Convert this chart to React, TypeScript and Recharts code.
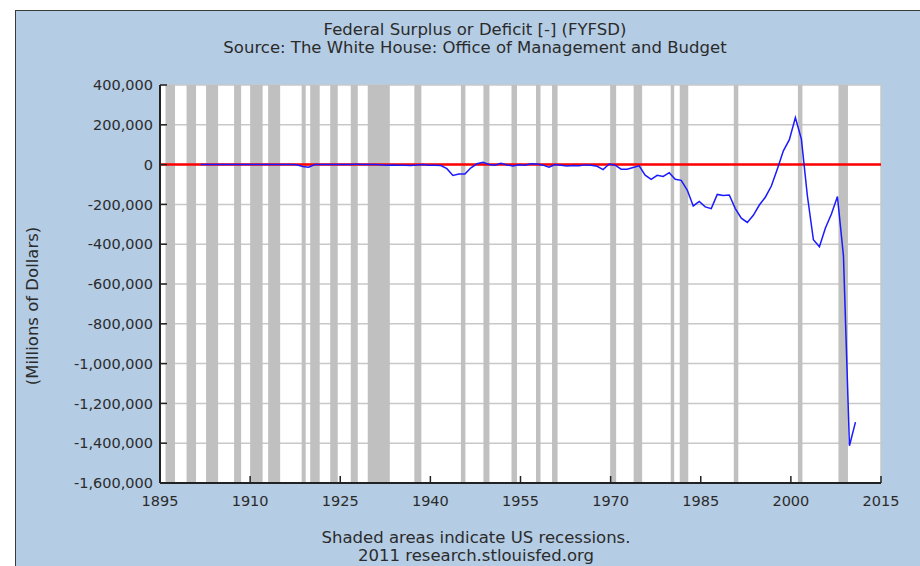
import {
  LineChart, Line, XAxis, YAxis, CartesianGrid, ReferenceArea, ReferenceLine,
} from "recharts";

// FYFSD, millions of dollars, fiscal years starting at FIRST_YEAR
const FIRST_YEAR = 1901;
const deficits = [
  63, 77, 45, -43, -23, 25, 87, -57, -89, -18,
  11, 3, 0, -1, -63, 48, -853, -9032, -13363, 291,
  509, 736, 713, 963, 717, 865, 1155, 939, 734, 738,
  -462, -2735, -2602, -3586, -2803, -4304, -2193, -89, -2846, -2920,
  -4941, -20503, -54554, -47557, -47553, -15936, 4018, 11796, 580, -3119,
  6102, -1519, -6493, -1154, -2993, 3947, 3412, -2769, -12849, 301,
  -3335, -7146, -4756, -5915, -1411, -3698, -8643, -25161, 3242, -2842,
  -23033, -23373, -14908, -6135, -53242, -73732, -53659, -59185, -40726, -73830,
  -78968, -127977, -207802, -185367, -212308, -221227, -149730, -155178, -152639, -221036,
  -269238, -290321, -255051, -203186, -163952, -107431, -21884, 69270, 125610, 236241,
  128236, -157758, -377585, -412727, -318346, -248181, -160701, -458553, -1412688, -1294373,
];

// US recessions (decimal years)
const recessionStarts = [
  1895.92, 1899.42, 1902.67, 1907.33, 1910.0, 1913.0, 1918.58, 1920.0, 1923.33, 1926.75,
  1929.58, 1937.33, 1945.08, 1948.83, 1953.5, 1957.58, 1960.25, 1969.92, 1973.83, 1980.0,
  1981.5, 1990.5, 2001.17, 2007.92,
];
const recessionEnds = [
  1897.5, 1901.0, 1904.67, 1908.5, 1912.08, 1915.0, 1919.25, 1921.58, 1924.58, 1927.92,
  1933.25, 1938.5, 1945.83, 1949.83, 1954.42, 1958.33, 1961.17, 1970.92, 1975.25, 1980.58,
  1982.92, 1991.25, 2001.92, 2009.5,
];

const xTicks = [1895, 1910, 1925, 1940, 1955, 1970, 1985, 2000, 2015];
const yTicks = [400000, 200000, 0, -200000, -400000, -600000, -800000, -1000000, -1200000, -1400000, -1600000];

const FONT = "DejaVu Sans, Verdana, sans-serif";
const TEXT = "#2b2b2b";

export default function App() {
  // FY ends Sep 30, plotted at period end
  const data = deficits.map((v, i) => ({ x: FIRST_YEAR + i + 0.75, value: v }));

  return (
    <div style={{ position: "absolute", left: 0, top: 0, width: 920, height: 566, background: "#fff", overflow: "hidden" }}>
      <div
        style={{
          position: "absolute", left: 15, top: 10, width: 905, height: 556,
          background: "#b4cce4", borderLeft: "1px solid #3a3a3a", borderTop: "1px solid #3a3a3a",
        }}
      />
      <div style={{ position: "absolute", left: 0, top: 0 }}>
        <LineChart width={920} height={566} data={data} margin={{ top: 85, right: 39, bottom: 53, left: 100 }}>
          <CartesianGrid vertical={false} stroke="#c8c8c8" strokeWidth={1.5} fill="#fff" />
          {recessionStarts.map((s, i) => (
            <ReferenceArea key={i} x1={s} x2={recessionEnds[i]} fill="#c0c0c0" fillOpacity={1} stroke="none" />
          ))}
          <ReferenceLine x={2015} stroke="#c8c8c8" strokeWidth={1.5} />
          <XAxis
            dataKey="x" type="number" domain={[1895, 2015]} ticks={xTicks} allowDataOverflow
            height={30} tickSize={-7} tickMargin={20}
            axisLine={{ stroke: "#222", strokeWidth: 2 }} tickLine={{ stroke: "#222", strokeWidth: 1.5 }}
            tick={{ fontSize: 14.5, fill: TEXT, fontFamily: FONT }}
          />
          <YAxis
            type="number" domain={[-1600000, 400000]} ticks={yTicks} allowDataOverflow
            width={60} tickSize={-7} tickMargin={14}
            axisLine={{ stroke: "#222", strokeWidth: 2 }} tickLine={{ stroke: "#222", strokeWidth: 1.5 }}
            tick={{ fontSize: 14.5, fill: TEXT, fontFamily: FONT }}
            tickFormatter={(v: number) => v.toLocaleString("en-US")}
          />
          <ReferenceLine y={0} stroke="#ff0000" strokeWidth={2.5} />
          <Line type="linear" dataKey="value" stroke="#1a1aff" strokeWidth={1.5} dot={false} isAnimationActive={false} />
        </LineChart>
      </div>
      <svg width={920} height={566} style={{ position: "absolute", left: 0, top: 0, pointerEvents: "none" }}>
        <g fontFamily={FONT} fill={TEXT} textAnchor="middle" fontSize={16.5}>
          <text x={475} y={35}>Federal Surplus or Deficit [-] (FYFSD)</text>
          <text x={475} y={53}>Source: The White House: Office of Management and Budget</text>
          <text x={476} y={543}>Shaded areas indicate US recessions.</text>
          <text x={476} y={561}>2011 research.stlouisfed.org</text>
          <text x={38} y={306} transform="rotate(-90 38 306)">(Millions of Dollars)</text>
        </g>
      </svg>
    </div>
  );
}
